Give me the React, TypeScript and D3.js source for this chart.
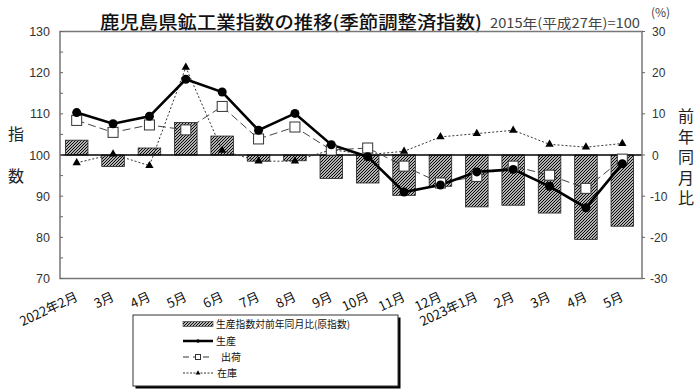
import React from 'react';
import * as d3 from 'd3';

const months = ['2022年2月', '3月', '4月', '5月', '6月', '7月', '8月', '9月', '10月', '11月', '12月', '2023年1月', '2月', '3月', '4月', '5月'];
const production = [110.3, 107.6, 109.4, 118.4, 115.3, 106.0, 110.1, 102.5, 99.6, 91.0, 92.7, 95.9, 96.5, 92.4, 87.2, 97.9];
const shipments = [108.4, 105.5, 107.3, 106.1, 111.8, 103.9, 106.8, 101.2, 101.7, 97.3, 93.2, 94.8, 97.3, 95.1, 91.9, 99.0];
const inventory = [98.1, 100.2, 97.4, 121.3, 101.1, 98.5, 98.5, 101.3, 100.1, 100.9, 104.4, 105.2, 106.0, 102.6, 101.9, 102.8];
const yoy = [3.6, -2.8, 1.7, 7.9, 4.6, -1.5, -1.4, -5.7, -6.8, -9.8, -7.6, -12.6, -12.2, -14.1, -20.5, -17.3];
const leftTicks = [130, 120, 110, 100, 90, 80, 70];
const rightTicks = [30, 20, 10, 0, -10, -20, -30];

const W = 700, H = 391;
const L = 60, R = 642, T = 31.5, B = 278.5;
const jp = '"Noto Sans CJK JP", sans-serif';
const num = '"Liberation Sans", Arial, sans-serif';

export default function App() {
  const x = d3.scaleBand<string>().domain(months.map((m, i) => i + '')).range([L - 1.5, R - 1.5]).paddingInner(0.38).paddingOuter(0.19);
  const cx = (i: number) => (x(i + '') as number) + x.bandwidth() / 2;
  const y = d3.scaleLinear().domain([70, 130]).range([B, T]);
  const yr = d3.scaleLinear().domain([-30, 30]).range([B, T]);

  const line = d3.line<number>().x((d, i) => cx(i)).y(d => y(d));

  const minor = d3.range(70, 131, 5);

  return (
    <div style={{ position: 'fixed', left: 0, top: 0 }}>
      <svg width={W} height={H} style={{ display: 'block', background: '#fff' }}>
        <defs>
          <pattern id="hatch" patternUnits="userSpaceOnUse" width="3" height="3">
            <rect width="3" height="3" fill="#fff" />
            <path d="M-0.75,0.75 l1.5,-1.5 M0,3 l3,-3 M2.25,3.75 l1.5,-1.5" stroke="#000" strokeWidth="1.15" />
          </pattern>
        </defs>

        {/* title */}
        <text x={100} y={29} fontFamily={jp} fontSize={18} fontWeight={500} textLength={382} lengthAdjust="spacingAndGlyphs" fill="#111">鹿児島県鉱工業指数の推移(季節調整済指数)</text>
        <text x={490} y={28} fontFamily={jp} fontSize={13} textLength={150} lengthAdjust="spacingAndGlyphs" fill="#444">2015年(平成27年)=100</text>
        <text x={651} y={17} fontFamily={jp} fontSize={12} fill="#444">(%)</text>

        {/* bars */}
        {yoy.map((v, i) => (
          <rect key={i} x={x(i + '')} width={x.bandwidth()} y={yr(Math.max(0, v))} height={Math.abs(yr(v) - yr(0))}
            fill="url(#hatch)" stroke="#222" strokeWidth={0.8} />
        ))}

        {/* zero line */}
        <line x1={L} x2={R} y1={y(100)} y2={y(100)} stroke="#000" strokeWidth={1.3} />

        {/* frame */}
        <rect x={L} y={T} width={R - L} height={B - T} fill="none" stroke="#777" strokeWidth={1.5} />

        {/* left axis */}
        {minor.map(t => (
          <line key={t} x1={L} x2={L + 3} y1={y(t)} y2={y(t)} stroke="#666" strokeWidth={1} />
        ))}
        {leftTicks.map(t => (
          <text key={t} x={50} y={y(t) + 4.5} textAnchor="end" fontFamily={num} fontSize={12.5} fill="#333">{t}</text>
        ))}
        <text x={16} y={140} textAnchor="middle" fontFamily={jp} fontSize={16} fill="#222">指</text>
        <text x={16} y={182} textAnchor="middle" fontFamily={jp} fontSize={16} fill="#222">数</text>

        {/* right axis */}
        {rightTicks.map(t => (
          <g key={t}>
            <line x1={R} x2={R + 3} y1={yr(t)} y2={yr(t)} stroke="#666" strokeWidth={1} />
            <text x={t < 0 ? 650 : 652} y={yr(t) + 4.5} fontFamily={num} fontSize={12} fill="#333">{t}</text>
          </g>
        ))}
        <text x={686} y={108} fontFamily={jp} fontSize={16} fill="#222" letterSpacing={4.5}
          style={{ writingMode: 'vertical-rl' }}>前年同月比</text>

        {/* lines */}
        <path d={line(inventory) as string} fill="none" stroke="#333" strokeWidth={1} strokeDasharray="2,2" />
        <path d={line(shipments) as string} fill="none" stroke="#444" strokeWidth={1} strokeDasharray="8,4" />
        <path d={line(production) as string} fill="none" stroke="#000" strokeWidth={2.6} />

        {inventory.map((v, i) => (
          <path key={i} d={d3.symbol(d3.symbolTriangle, 30)() as string} transform={`translate(${cx(i)},${y(v)})`} fill="#000" />
        ))}
        {shipments.map((v, i) => (
          <rect key={i} x={cx(i) - 5} y={y(v) - 5} width={10} height={10} fill="#fff" stroke="#333" strokeWidth={1} />
        ))}
        {production.map((v, i) => (
          <circle key={i} cx={cx(i)} cy={y(v)} r={4.5} fill="#000" />
        ))}

        {/* x labels */}
        {months.map((m, i) => (
          <text key={i} transform={`translate(${cx(i) + 2},${300}) rotate(-25)`} textAnchor="end" fontFamily={jp} fontSize={13} fill="#111">{m}</text>
        ))}

        {/* legend */}
        <rect x={135.5} y={317.5} width={265} height={71} fill="#000" />
        <rect x={133} y={315} width={265} height={71} fill="#fff" stroke="#333" strokeWidth={1} />
        <rect x={183} y={321.5} width={30} height={5} fill="url(#hatch)" stroke="#333" strokeWidth={0.6} />
        <text x={216} y={328} fontFamily={jp} fontSize={10} textLength={134} lengthAdjust="spacingAndGlyphs" fill="#111">生産指数対前年同月比(原指数)</text>
        <line x1={183} x2={213} y1={341} y2={341} stroke="#000" strokeWidth={2.5} />
        <circle cx={198} cy={341} r={1.8} fill="#000" />
        <text x={216} y={345} fontFamily={jp} fontSize={10} fill="#111">生産</text>
        <line x1={183} x2={213} y1={357} y2={357} stroke="#333" strokeWidth={1} strokeDasharray="6,4" />
        <rect x={195.5} y={354.5} width={5} height={5} fill="#fff" stroke="#333" strokeWidth={1} />
        <text x={221} y={361} fontFamily={jp} fontSize={10} fill="#111">出荷</text>
        <line x1={183} x2={213} y1={373} y2={373} stroke="#333" strokeWidth={1} strokeDasharray="2,1.5" />
        <path d={d3.symbol(d3.symbolTriangle, 10)() as string} transform="translate(198,373)" fill="#000" />
        <text x={217} y={377} fontFamily={jp} fontSize={10} fill="#111">在庫</text>
      </svg>
    </div>
  );
}
